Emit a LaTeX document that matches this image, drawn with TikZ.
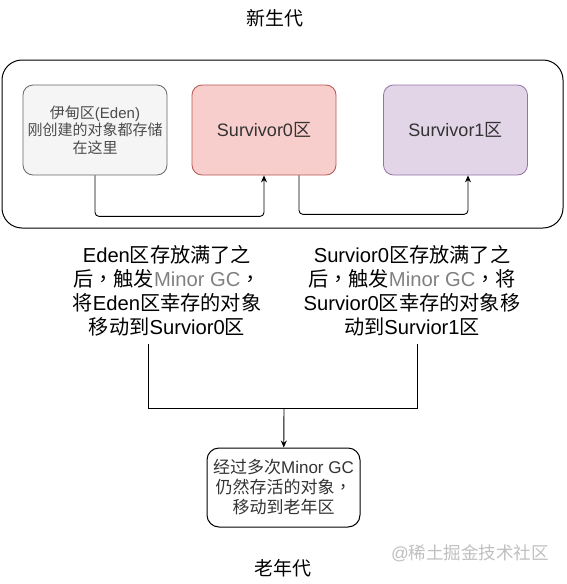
\documentclass[tikz,border=0pt]{standalone}
\usepackage{fontspec}
\setmainfont{Liberation Sans}
\newfontfamily\cjk{Noto Sans CJK SC}
\newfontfamily\cjkpun{Noto Sans CJK TC}
\usetikzlibrary{arrows.meta}

\definecolor{edenfill}{HTML}{F5F5F5}
\definecolor{edenline}{HTML}{666666}
\definecolor{sonefill}{HTML}{F8CECC}
\definecolor{soneline}{HTML}{B85450}
\definecolor{stwofill}{HTML}{E1D5E7}
\definecolor{stwoline}{HTML}{9673A6}
\definecolor{gctext}{HTML}{808080}
\newcommand{\gc}{\textcolor{gctext}{Minor GC}}
\newcommand{\cm}{{\cjkpun ，}}

\begin{document}
\begin{tikzpicture}[x=1pt,y=-1pt]
		\tikzset{area/.style = {draw, rounded corners=10pt, minimum width=144pt, minimum height=90pt, line width=0.8pt, inner sep=0pt, align=center}}
		\tikzset{note/.style = {align=center, inner sep=0pt, font=\fontsize{20.2}{24}\selectfont}}
		\tikzset{link/.style = {line width=0.9pt, rounded corners=4pt, -{Stealth[length=7pt,width=6pt]}}}

		\useasboundingbox (0,0) rectangle (566,584);

		\node[font=\fontsize{19}{22}\selectfont\cjk] (young) at (275,18) {新生代};
		\node[draw, line width=1pt, rounded corners=20pt, minimum width=561pt, minimum height=168pt] (youngbox) at (282.5,144) {};

		\node[area, fill=edenfill, draw=edenline, text=black!70, font=\fontsize{15}{17.5}\selectfont] (eden) at (95,130) {{\cjk 伊甸区}(Eden)\\{\cjk 刚创建的对象都存储}\\{\cjk 在这里}};
		\node[area, fill=sonefill, draw=soneline, text=black!80, font=\fontsize{18}{22}\selectfont] (s0) at (264,130) {Survivor0{\cjk 区}};
		\node[area, fill=stwofill, draw=stwoline, text=black!80, font=\fontsize{18}{22}\selectfont] (s1) at (455.5,130) {Survivor1{\cjk 区}};

		\draw[link] (eden.south) -- ++(0,41) -| (s0.south);
		\draw[link] ([xshift=35pt]s0.south) -- ++(0,39) -| ([xshift=12.5pt]s1.south);

		\node[note] (edenfull) at (167,291) {Eden{\cjk 区存放满了之}\\{\cjk 后}\cm{\cjk 触发}\gc\cm\\{\cjk 将}Eden{\cjk 区幸存的对象}\\{\cjk 移动到}Survior0{\cjk 区}};
		\node[note] (s0full) at (412,291) {Survior0{\cjk 区存放满了之}\\{\cjk 后}\cm{\cjk 触发}\gc\cm{\cjk 将}\\Survior0{\cjk 区幸存的对象移}\\{\cjk 动到}Survior1{\cjk 区}};

		\coordinate (edenout) at (148,344);
		\coordinate (s0out) at (417,344);
		\coordinate (merge) at (284,408);

		\node[draw, line width=1pt, rounded corners=12pt, minimum width=153pt, minimum height=79pt, align=center, inner sep=0pt, text=black!80, font=\fontsize{17}{20}\selectfont] (old) at (283.5,487.5) {{\cjk 经过多次}Minor GC\\{\cjk 仍然存活的对象}\cm\\{\cjk 移动到老年区}};

		\draw[line width=0.9pt] (edenout) |- (merge);
		\draw[line width=0.9pt] (s0out) |- (merge);
		\draw[link] (merge) -- (old);

		\node[font=\fontsize{19}{22}\selectfont\cjk] (oldname) at (283,568) {老年代};
		\node[text=black!25, font=\fontsize{17.5}{20}\selectfont] (mark) at (470,553) {@{\cjk 稀土掘金技术社区}};

	\end{tikzpicture}
\end{document}
